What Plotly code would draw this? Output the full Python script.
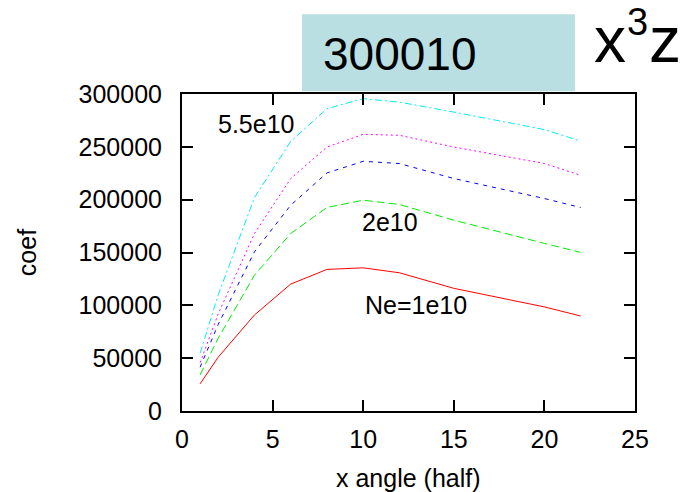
import plotly.graph_objects as go

# x angle (half) sample points
angle = [1, 2, 4, 6, 8, 10, 12, 15, 20, 22]

# coefficient for each electron density
coef_1e10 = [25700, 51000, 90900, 120100, 134000, 135500, 130800, 116100, 98500, 89900]
coef_2e10 = [34200, 69000, 128600, 168000, 192600, 199500, 195400, 180600, 158600, 150100]
coef_3e10 = [41500, 82000, 150700, 194800, 225300, 236300, 234200, 220000, 201100, 192600]
coef_4e10 = [45800, 92000, 168000, 220000, 249800, 261800, 260900, 249800, 234200, 223100]
coef_5p5e10 = [54700, 110000, 202000, 255200, 286100, 295600, 292300, 282900, 266300, 255500]

x_ticks = [0, 5, 10, 15, 20, 25]
y_ticks = [0, 50000, 100000, 150000, 200000, 250000, 300000]

FONT = "Liberation Sans, Arial, sans-serif"

series = [
    (coef_1e10, "#ff0000", "solid"),
    (coef_2e10, "#00ee00", "8px,4px"),
    (coef_3e10, "#0000ff", "4px,5px"),
    (coef_4e10, "#ff00ff", "2px,3px"),
    (coef_5p5e10, "#00eeee", "7px,3px,2px,3px"),
]

fig = go.Figure()
for vals, color, dash in series:
    fig.add_trace(go.Scatter(
        x=angle, y=vals, mode="lines",
        line=dict(color=color, width=1, dash=dash),
        showlegend=False, hoverinfo="skip",
    ))

axis_common = dict(
    showline=True, linecolor="black", linewidth=2,
    mirror="ticks", ticks="inside", ticklen=11, tickwidth=2, tickcolor="black",
    showgrid=False, zeroline=False, automargin=False,
    tickfont=dict(family=FONT, size=25, color="black"),
)

fig.update_xaxes(
    range=[0, 25], tickvals=x_ticks, ticktext=[str(v) for v in x_ticks],
    ticklabelstandoff=5,
    **axis_common,
)
fig.update_yaxes(
    range=[0, 300000], tickvals=y_ticks, ticktext=[str(v) for v in y_ticks],
    ticklabelstandoff=13,
    title=dict(text="coef", font=dict(family=FONT, size=25, color="black"), standoff=35),
    **axis_common,
)

# Curve labels
labels = [
    ("5.5e10", 4.1, 271500),
    ("2e10", 11.5, 179000),
    ("Ne=1e10", 12.9, 100600),
]
annotations = [
    dict(text=t, x=x, y=y, xref="x", yref="y", showarrow=False,
         font=dict(family=FONT, size=25, color="black"),
         xanchor="center", yanchor="middle")
    for t, x, y in labels
]

# x-axis title placed below the tick labels
annotations.append(dict(
    text="x angle (half)", x=0.499, y=-0.21, xref="paper", yref="paper", showarrow=False,
    font=dict(family=FONT, size=25, color="black"), xanchor="center", yanchor="middle",
))

# Heading in a shaded box
annotations.append(dict(
    text="300010", x=0.481, y=1.125, xref="paper", yref="paper", showarrow=False,
    font=dict(family=FONT, size=46, color="black"), xanchor="center", yanchor="middle",
))

# Monomial x^3 z, set as base letters and a raised exponent
monomial = [
    ("x", 0.9448, 1.1699, 64),
    ("3", 1.0066, 1.2270, 38),
    ("z", 1.0662, 1.1699, 64),
]
for t, x, y, s in monomial:
    annotations.append(dict(
        text=t, x=x, y=y, xref="paper", yref="paper", showarrow=False,
        font=dict(family=FONT, size=s, color="black"), xanchor="center", yanchor="middle",
    ))

fig.update_layout(
    width=689, height=492,
    margin=dict(l=182, r=54, t=94, b=81),
    paper_bgcolor="white", plot_bgcolor="white",
    annotations=annotations,
    shapes=[dict(
        type="rect", xref="paper", yref="paper",
        x0=0.2649, x1=0.8675, y0=1.0088, y1=1.2514,
        fillcolor="#b9dfe2", line=dict(width=0), layer="below",
    )],
)

fig.write_html("out.html")
